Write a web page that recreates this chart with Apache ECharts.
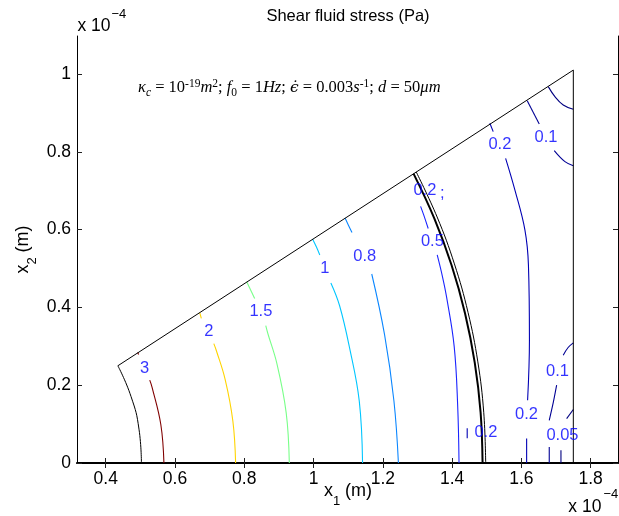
<!DOCTYPE html>
<html><head><meta charset="utf-8">
<script src="https://cdn.jsdelivr.net/npm/echarts@6/dist/echarts.min.js"></script>
<style>html,body{margin:0;padding:0;background:#fff}#c{width:619px;height:516px}</style>
</head><body><div id="c"></div>
<script>
// ---------- axes ----------
const xTicks = [0.4, 0.6, 0.8, 1, 1.2, 1.4, 1.6, 1.8];
const xTickLabels = ['0.4', '0.6', '0.8', '1', '1.2', '1.4', '1.6', '1.8'];
const yTicks = [0, 0.2, 0.4, 0.6, 0.8, 1];
const yTickLabels = ['0', '0.2', '0.4', '0.6', '0.8', '1'];
const xLimits = [0.317, 1.879];
const yLimits = [0, 1.098];

// ---------- domain boundary (x1, x2 in 1e-4 m) ----------
const boundaryArc = [[0.503, 0], [0.496, 0.087], [0.473, 0.171], [0.435, 0.25]];
const boundaryEdges = [[0.435, 0.25], [1.75, 1.0104], [1.75, 0]];

// ---------- contour lines (segments between inline labels) ----------
const level3 = [
  [[0.568, 0], [0.559, 0.099], [0.534, 0.194], [0.527, 0.213]],
  [[0.495, 0.279], [0.492, 0.284]]
];
const level2 = [
  [[0.775, 0], [0.767, 0.108], [0.745, 0.214], [0.719, 0.290], [0.712, 0.307]],
  [[0.6715, 0.386], [0.676, 0.372]]
];
const level1_5 = [
  [[0.930, 0], [0.921, 0.129], [0.894, 0.256], [0.868, 0.333], [0.862, 0.353]],
  [[0.807, 0.466], [0.830, 0.423]]
];
const level1 = [
  [[1.1415, 0], [1.132, 0.159], [1.104, 0.296], [1.075, 0.405], [1.050, 0.463]],
  [[0.997, 0.576], [1.008, 0.556], [1.018, 0.535]]
];
const level0_8 = [
  [[1.245, 0], [1.232, 0.160], [1.205, 0.330], [1.168, 0.486]],
  [[1.091, 0.630], [1.101, 0.611], [1.111, 0.593]]
];
const level0_5 = [
  [[1.309, 0.660], [1.318, 0.638], [1.331, 0.603]],
  [[1.357, 0.535], [1.372, 0.480], [1.384, 0.427], [1.406, 0.300], [1.416, 0.150], [1.420, 0]]
];
const level0_2 = [
  [[1.509, 0.8736], [1.5187, 0.852]],
  [[1.5545, 0.7835], [1.5814, 0.7018], [1.6103, 0.599], [1.6204, 0.5089], [1.6233, 0.3158], [1.618, 0.1614]],
  [[1.6152, 0.0628], [1.6152, 0]],
  [[1.4436, 0.0893], [1.4436, 0.0636]]
];
const level0_1 = [
  [[1.6169, 0.9318], [1.6516, 0.8718]],
  [[1.6949, 0.8031], [1.7258, 0.7748], [1.75, 0.7645]],
  [[1.75, 0.309], [1.735, 0.297], [1.7209, 0.2772]],
  [[1.7018, 0.2], [1.692, 0.155], [1.6805, 0.1099]],
  [[1.6805, 0.0412], [1.6805, 0]]
];
const level0_05 = [
  [[1.6776, 0.9678], [1.6969, 0.9421], [1.7209, 0.9207], [1.75, 0.9097]],
  [[1.75, 0.1375], [1.7307, 0.1143]],
  [[1.7143, 0.0327], [1.7143, 0]]
];
const frontThick = [[1.2886, 0.744], [1.3486, 0.629], [1.3983, 0.509], [1.4373, 0.385], [1.4654, 0.258], [1.4823, 0.130], [1.488, 0]];
const frontThin = [[1.2964, 0.7485], [1.3567, 0.6327], [1.4067, 0.512], [1.446, 0.3874], [1.4743, 0.26], [1.4913, 0.1305], [1.497, 0]];

// ---------- inline contour labels: text, x1, x2 ----------
const contourLabelText = ['3', '2', '1.5', '1', '0.8', '0.5', '0.2', ';', '0.2', '0.1', '0.1', '0.2', '0.2', '0.05'];
const contourLabelX = [0.512, 0.6975, 0.848, 1.0326, 1.148, 1.343, 1.3214, 1.372, 1.538, 1.671, 1.7042, 1.6146, 1.4976, 1.7186];
const contourLabelY = [0.2443, 0.337, 0.3905, 0.5, 0.532, 0.569, 0.701, 0.692, 0.818, 0.838, 0.2348, 0.1253, 0.0777, 0.0713];

// ---------- styles ----------
const levelStyle = [
  [level3, '#800000'], [level2, '#ffd400'], [level1_5, '#78ff88'], [level1, '#00c6ff'],
  [level0_8, '#0a86ff'], [level0_5, '#1a24ff'], [level0_2, '#0000b4'], [level0_1, '#000094'], [level0_05, '#000080']
];
const SANS = 'Liberation Sans, Arial, sans-serif';
const SERIF = 'Liberation Serif, Times New Roman, serif';

const series = [];
function lineSeries(data, color, width, smooth, z) {
  series.push({
    type: 'line', data: data, smooth: smooth, symbol: 'none', showSymbol: false,
    lineStyle: { color: color, width: width }, silent: true, z: z, animation: false,
    xAxisIndex: 0, yAxisIndex: 0
  });
}
lineSeries(boundaryArc, '#000', 1, true, 3);
lineSeries(boundaryEdges, '#000', 1, false, 3);
levelStyle.forEach(([segs, color]) => segs.forEach(s => lineSeries(s, color, 1.1, s.length > 2 ? 0.4 : false, 2)));
lineSeries(frontThick, '#000', 2, 0.4, 4);
lineSeries(frontThin, '#000', 1, 0.4, 4);

series.push({
  type: 'scatter', xAxisIndex: 0, yAxisIndex: 0, z: 6, silent: true, animation: false,
  symbolSize: 1, itemStyle: { color: 'rgba(0,0,0,0)' },
  data: contourLabelText.map((t, i) => ({ value: [contourLabelX[i], contourLabelY[i]], label: { formatter: t } })),
  label: { show: true, position: 'inside', color: '#0000ff', fontSize: 16.5, fontFamily: SANS }
});

function tickLabel(ticks, labels) {
  return v => { const i = ticks.findIndex(t => Math.abs(t - v) < 1e-9); return i >= 0 ? labels[i] : ''; };
}
const tickStyle = { inside: true, length: 5, lineStyle: { color: '#222', width: 1 } };

const option = {
  backgroundColor: '#fff',
  animation: false,
  grid: { left: 77, right: 1, top: 36, bottom: 53, containLabel: false },
  xAxis: [
    { type: 'value', position: 'bottom', min: xLimits[0], max: xLimits[1], splitLine: { show: false },
      axisLine: { lineStyle: { color: '#000', width: 2 } },
      axisTick: Object.assign({ customValues: xTicks }, tickStyle),
      axisLabel: { customValues: xTicks, formatter: tickLabel(xTicks, xTickLabels), color: '#000', fontSize: 17.5, fontFamily: SANS, margin: 7 } },
    { type: 'value', position: 'top', min: xLimits[0], max: xLimits[1], splitLine: { show: false },
      axisLine: { lineStyle: { color: '#000', width: 1 } },
      axisTick: Object.assign({ customValues: xTicks }, tickStyle),
      axisLabel: { show: false } }
  ],
  yAxis: [
    { type: 'value', position: 'left', min: yLimits[0], max: yLimits[1], splitLine: { show: false },
      axisLine: { lineStyle: { color: '#000', width: 1 } },
      axisTick: Object.assign({ customValues: yTicks }, tickStyle),
      axisLabel: { customValues: yTicks, formatter: tickLabel(yTicks, yTickLabels), color: '#000', fontSize: 17.5, fontFamily: SANS, margin: 6 } },
    { type: 'value', position: 'right', min: yLimits[0], max: yLimits[1], splitLine: { show: false },
      axisLine: { lineStyle: { color: '#000', width: 1 } },
      axisTick: Object.assign({ customValues: yTicks }, tickStyle),
      axisLabel: { show: false } }
  ],
  graphic: [
    { type: 'text', x: 348, y: 16.5, silent: true,
      style: { text: 'Shear fluid stress (Pa)', fill: '#000', fontSize: 16.5, fontFamily: SANS, align: 'center', verticalAlign: 'middle', textAlign: 'center', textVerticalAlign: 'middle' } },
    { type: 'text', x: 77.5, y: 26.2, silent: true,
      style: { text: 'x 10', fill: '#000', fontSize: 17.5, fontFamily: SANS, align: 'left', verticalAlign: 'middle', textAlign: 'left', textVerticalAlign: 'middle' } },
    { type: 'text', x: 111.5, y: 14.2, silent: true,
      style: { text: '\u22124', fill: '#000', fontSize: 13, fontFamily: SANS, align: 'left', verticalAlign: 'middle', textAlign: 'left', textVerticalAlign: 'middle' } },
    { type: 'text', x: 568.3, y: 506.7, silent: true,
      style: { text: 'x 10', fill: '#000', fontSize: 17.5, fontFamily: SANS, align: 'left', verticalAlign: 'middle', textAlign: 'left', textVerticalAlign: 'middle' } },
    { type: 'text', x: 603.5, y: 494.2, silent: true,
      style: { text: '\u22124', fill: '#000', fontSize: 13, fontFamily: SANS, align: 'left', verticalAlign: 'middle', textAlign: 'left', textVerticalAlign: 'middle' } },
    { type: 'text', x: 348, y: 491.5, silent: true,
      style: { text: '{a|x}{s|1}{a| (m)}', fill: '#000', align: 'center', verticalAlign: 'middle', textAlign: 'center', textVerticalAlign: 'middle',
        rich: { a: { fontSize: 18, fontFamily: SANS, lineHeight: 32, fill: '#000' }, s: { fontSize: 13, fontFamily: SANS, verticalAlign: 'bottom', fill: '#000' } } } },
    { type: 'text', x: 23, y: 249.5, rotation: Math.PI / 2, silent: true,
      style: { text: '{a|x}{s|2}{a| (m)}', fill: '#000', align: 'center', verticalAlign: 'middle', textAlign: 'center', textVerticalAlign: 'middle',
        rich: { a: { fontSize: 18, fontFamily: SANS, lineHeight: 32, fill: '#000' }, s: { fontSize: 13, fontFamily: SANS, verticalAlign: 'bottom', fill: '#000' } } } },
    { type: 'text', x: 138, y: 88, silent: true,
      style: {
        text: '{i|\u03ba}{si|c}{r| = 10}{sp|-19}{i|m}{sp|2}{r|; }{i|f}{sb|0}{r| = 1}{i|Hz}{r|; }{e|\u03f5\u0307}{r| = 0.003}{i|s}{sp|-1}{r|; }{i|d}{r| = 50}{i|\u03bcm}',
        fill: '#000', align: 'left', verticalAlign: 'middle', textAlign: 'left', textVerticalAlign: 'middle',
        rich: {
          r: { fontSize: 16.5, fontFamily: SERIF, lineHeight: 21, fill: '#000' },
          i: { fontSize: 16.5, fontFamily: SERIF, fontStyle: 'italic', lineHeight: 21, fill: '#000' },
          e: { fontSize: 15.5, fontFamily: 'DejaVu Serif', fontStyle: 'italic', lineHeight: 21, fill: '#000' },
          sp: { fontSize: 11.5, fontFamily: SERIF, verticalAlign: 'top', fill: '#000' },
          sb: { fontSize: 11.5, fontFamily: SERIF, verticalAlign: 'bottom', fill: '#000' },
          si: { fontSize: 11.5, fontFamily: SERIF, fontStyle: 'italic', verticalAlign: 'bottom', fill: '#000' }
        }
      } }
  ],
  series: series
};
const chart = echarts.init(document.getElementById('c'), null, { renderer: 'canvas' });
chart.setOption(option);
</script>
</body></html>
